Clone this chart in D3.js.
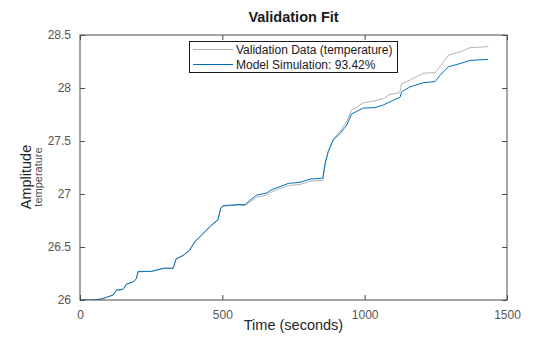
<!DOCTYPE html>
<html>
<head>
<meta charset="utf-8">
<script src="https://cdn.jsdelivr.net/npm/d3@7"></script>
<style>
  html, body { margin: 0; padding: 0; background: #fff; }
  svg { display: block; font-family: "Liberation Sans", Arial, sans-serif; }
</style>
</head>
<body>
<svg id="chart" width="560" height="337"></svg>
<script>
// ---- data ----
const timeSec = [0, 45, 75, 98, 116, 128, 151, 163, 186, 198, 204, 251, 292, 327, 338, 362, 385, 403, 426, 455, 485, 494, 502, 555, 580, 597, 621, 656, 673, 703, 732, 773, 808, 853, 861, 872, 890, 913, 937, 954, 972, 995, 1036, 1066, 1089, 1113, 1124, 1130, 1159, 1206, 1247, 1265, 1294, 1335, 1370, 1434];
const validationData = [26.0, 26.0, 26.01, 26.03, 26.045, 26.09, 26.10, 26.145, 26.17, 26.20, 26.265, 26.27, 26.295, 26.30, 26.385, 26.42, 26.465, 26.545, 26.61, 26.685, 26.755, 26.86, 26.885, 26.895, 26.89, 26.925, 26.97, 26.99, 27.02, 27.05, 27.08, 27.09, 27.12, 27.13, 27.28, 27.40, 27.52, 27.59, 27.68, 27.79, 27.82, 27.86, 27.88, 27.90, 27.94, 27.95, 27.965, 28.04, 28.075, 28.14, 28.145, 28.20, 28.31, 28.34, 28.38, 28.39];
const modelSimulation = [26.0, 26.0, 26.01, 26.03, 26.047, 26.094, 26.10, 26.15, 26.17, 26.20, 26.27, 26.27, 26.30, 26.30, 26.39, 26.42, 26.47, 26.55, 26.61, 26.69, 26.76, 26.865, 26.89, 26.90, 26.90, 26.94, 26.99, 27.01, 27.04, 27.07, 27.10, 27.11, 27.14, 27.15, 27.29, 27.40, 27.51, 27.57, 27.65, 27.755, 27.78, 27.81, 27.815, 27.84, 27.87, 27.90, 27.91, 27.965, 28.01, 28.05, 28.06, 28.12, 28.20, 28.23, 28.26, 28.27];
const xTicks = [0, 500, 1000, 1500];
const yTicks = [26, 26.5, 27, 27.5, 28, 28.5];
const legendLabels = ["Validation Data (temperature)", "Model Simulation: 93.42%"];

// ---- layout ----
const L = 80, R = 507, T = 35, B = 300;
const svg = d3.select("#chart");
const x = d3.scaleLinear().domain([0, 1500]).range([L, R]);
const y = d3.scaleLinear().domain([26, 28.5]).range([B, T]);

const axisColor = "#4d4d4d";
const textColor = "#555555";

// lines
const line = (vals) => d3.line().x((d, i) => x(timeSec[i])).y((d) => y(d))(vals);
svg.append("clipPath").attr("id", "clip").append("rect")
  .attr("x", L).attr("y", T).attr("width", R - L).attr("height", B - T);
const g = svg.append("g").attr("clip-path", "url(#clip)");
g.append("path").attr("d", line(validationData)).attr("fill", "none")
  .attr("stroke", "#b3b3b3").attr("stroke-width", 1);
g.append("path").attr("d", line(modelSimulation)).attr("fill", "none")
  .attr("stroke", "#0072bd").attr("stroke-width", 1);

// axes
const tickLen = 5;
const styleAxis = (sel) => {
  sel.select(".domain").remove();
  sel.selectAll(".tick line").attr("stroke", axisColor);
  sel.selectAll(".tick text").attr("fill", textColor)
    .style("font-family", "'Liberation Sans', Arial, sans-serif").style("font-size", "12px");
};
svg.append("g").attr("transform", `translate(0,${B})`)
  .call(d3.axisBottom(x).tickValues(xTicks).tickSize(-tickLen).tickPadding(10).tickFormat(d3.format("d")))
  .call(styleAxis);
svg.append("g").attr("transform", `translate(0,${T})`)
  .call(d3.axisTop(x).tickValues(xTicks).tickSize(-tickLen).tickFormat(""))
  .call(styleAxis);
svg.append("g").attr("transform", `translate(${L},0)`)
  .call(d3.axisLeft(y).tickValues(yTicks).tickSize(-tickLen).tickPadding(9).tickFormat(d => String(d)))
  .call(styleAxis);
svg.append("g").attr("transform", `translate(${R},0)`)
  .call(d3.axisRight(y).tickValues(yTicks).tickSize(-tickLen).tickFormat(""))
  .call(styleAxis);

// box
svg.append("rect").attr("x", L).attr("y", T).attr("width", R - L).attr("height", B - T)
  .attr("fill", "none").attr("stroke", axisColor).attr("stroke-width", 1);

// title & labels
svg.append("text").attr("x", (L + R) / 2).attr("y", 22).attr("text-anchor", "middle")
  .attr("font-size", "14.5px").attr("font-weight", "bold").attr("fill", "#1a1a1a").text("Validation Fit");
svg.append("text").attr("x", (L + R) / 2).attr("y", 330).attr("text-anchor", "middle")
  .attr("font-size", "14.5px").attr("fill", "#262626").text("Time (seconds)");
svg.append("text").attr("transform", `translate(31,177) rotate(-90)`).attr("text-anchor", "middle")
  .attr("font-size", "14.5px").attr("fill", "#262626").text("Amplitude");
svg.append("text").attr("transform", `translate(42,177) rotate(-90)`).attr("text-anchor", "middle")
  .attr("font-size", "11px").attr("fill", "#4d4d4d").text("temperature");

// legend
const lg = svg.append("g");
lg.append("rect").attr("x", 189.5).attr("y", 41.5).attr("width", 208).attr("height", 31)
  .attr("fill", "#fff").attr("stroke", "#1a1a1a").attr("stroke-width", 1);
const legendColors = ["#b3b3b3", "#0072bd"];
legendLabels.forEach((lab, i) => {
  const yy = 49.5 + i * 15;
  lg.append("line").attr("x1", 193).attr("x2", 233).attr("y1", yy).attr("y2", yy)
    .attr("stroke", legendColors[i]).attr("stroke-width", 1.1);
  lg.append("text").attr("x", 236).attr("y", yy + 4.3).attr("font-size", "12px")
    .attr("fill", "#1a1a1a").text(lab);
});
</script>
</body>
</html>
